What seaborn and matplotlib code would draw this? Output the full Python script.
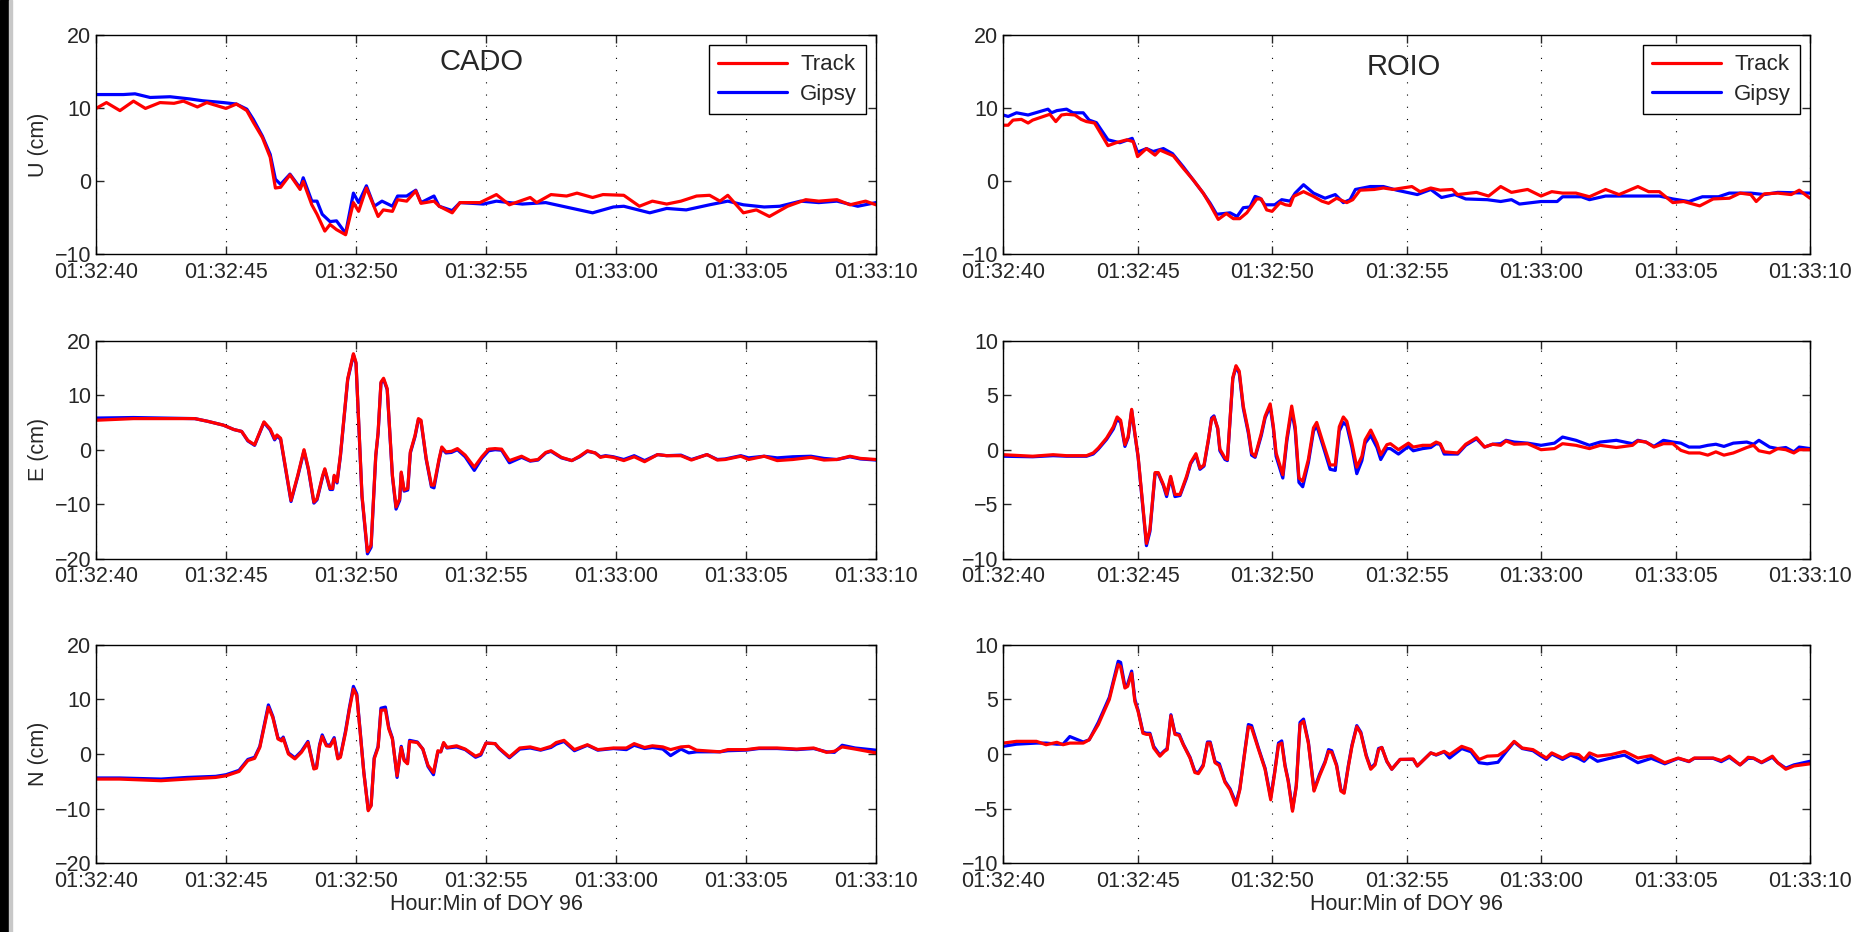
import seaborn as sns
import matplotlib.pyplot as plt
from matplotlib.patches import Rectangle

# seconds after 01:32:40, values in cm

# ---- CADO U ----
cado_u_t_track = [0, 0.4, 0.92, 1.44, 1.9, 2.46, 3.0, 3.36, 3.9, 4.26,
                  5.0, 5.4, 5.8, 6.05, 6.4, 6.7, 6.9, 7.1, 7.46, 7.85,
                  7.97, 8.3, 8.5, 8.8, 9.0, 9.25, 9.6, 9.9, 10.1, 10.4,
                  10.85, 11.05, 11.4, 11.6, 11.95, 12.3, 12.5, 13.0, 13.2, 13.7,
                  14.0, 14.77, 15.4, 15.9, 16.7, 16.95, 17.5, 18.1, 18.5, 19.1,
                  19.5, 20.3, 20.9, 21.4, 21.95, 22.5, 23.1, 23.6, 24.0, 24.3,
                  24.9, 25.4, 25.9, 26.6, 27.3, 27.8, 28.5, 29.0, 29.6, 30.0]
cado_u_track = [10.0, 10.8, 9.7, 11.0, 10.0, 10.8, 10.7, 11.0, 10.2, 10.8,
                10.0, 10.6, 9.7, 8.1, 6.0, 3.3, -0.9, -0.8, 0.9, -1.1,
                0.0, -3.2, -4.5, -6.8, -5.9, -6.6, -7.3, -2.9, -4.1, -0.9,
                -4.8, -3.9, -4.1, -2.5, -2.7, -1.3, -3.0, -2.7, -3.4, -4.3,
                -2.9, -2.9, -1.8, -3.2, -2.2, -2.9, -1.8, -2.0, -1.6, -2.2,
                -1.8, -1.9, -3.4, -2.7, -3.1, -2.7, -2.0, -1.9, -2.7, -1.9,
                -4.3, -3.9, -4.8, -3.4, -2.5, -2.7, -2.5, -3.2, -2.7, -3.2]
cado_u_t_gipsy = [0, 1.05, 1.5, 2.08, 2.85, 3.6, 4.1, 4.9, 5.4, 5.8,
                  6.05, 6.4, 6.7, 6.9, 7.1, 7.46, 7.85, 7.97, 8.3, 8.5,
                  8.7, 9.0, 9.25, 9.6, 9.9, 10.1, 10.4, 10.7, 11.0, 11.4,
                  11.6, 11.95, 12.3, 12.5, 13.0, 13.2, 13.7, 14.0, 14.9, 15.4,
                  16.4, 17.3, 18.2, 19.1, 19.9, 20.3, 21.3, 21.95, 22.7, 23.6,
                  24.3, 24.9, 25.7, 26.3, 27.1, 27.8, 28.5, 29.3, 30.0]
cado_u_gipsy = [11.9, 11.9, 12.0, 11.5, 11.6, 11.3, 11.05, 10.8, 10.6, 9.9,
                8.5, 6.2, 3.7, 0.3, -0.4, 1.0, -0.9, 0.5, -2.7, -2.7,
                -4.5, -5.5, -5.4, -7.1, -1.6, -2.9, -0.6, -3.4, -2.7, -3.4,
                -2.0, -2.0, -1.2, -2.9, -2.0, -3.4, -4.0, -2.9, -3.1, -2.7,
                -3.1, -2.9, -3.6, -4.3, -3.5, -3.4, -4.3, -3.7, -3.9, -3.2,
                -2.7, -3.2, -3.5, -3.4, -2.7, -2.9, -2.7, -3.4, -2.9]

# ---- CADO E ----
cado_e_t = [0, 1.44, 3.8, 4.3, 4.9, 5.3, 5.6, 5.84, 6.1, 6.46,
            6.7, 6.87, 6.96, 7.1, 7.5, 7.76, 8.0, 8.17, 8.38, 8.5,
            8.72, 8.8, 9.0, 9.1, 9.16, 9.27, 9.4, 9.68, 9.9, 10.0,
            10.23, 10.44, 10.58, 10.76, 10.85, 10.96, 11.06, 11.2, 11.4, 11.54,
            11.68, 11.74, 11.85, 11.99, 12.09, 12.27, 12.4, 12.5, 12.7, 12.9,
            13.0, 13.2, 13.3, 13.46, 13.67, 13.9, 14.2, 14.55, 14.84, 15.1,
            15.35, 15.6, 15.9, 16.37, 16.7, 17.0, 17.3, 17.5, 17.9, 18.3,
            18.6, 18.9, 19.2, 19.4, 19.6, 19.9, 20.3, 20.7, 21.1, 21.6,
            21.95, 22.5, 22.9, 23.5, 23.9, 24.2, 24.8, 25.1, 25.7, 26.2,
            26.8, 27.5, 28.0, 28.5, 29.0, 29.4, 30.0]
cado_e_track = [5.4, 5.7, 5.7, 5.2, 4.5, 3.7, 3.35, 1.7, 0.9, 5.1,
                3.8, 2.0, 2.7, 2.1, -9.3, -4.7, 0.0, -3.5, -9.6, -9.0,
                -4.7, -3.5, -7.1, -7.1, -4.7, -5.9, -1.0, 13.0, 17.6, 16.0,
                -8.4, -18.7, -17.5, -1.0, 3.2, 12.4, 13.1, 11.2, -4.7, -10.5,
                -9.0, -4.1, -7.4, -7.1, -0.4, 2.6, 5.7, 5.4, -1.6, -6.5,
                -6.5, -1.6, 0.5, -0.4, -0.3, 0.2, -1.0, -3.2, -1.3, 0.1,
                0.2, 0.1, -2.0, -1.2, -2.0, -1.8, -0.5, -0.2, -1.4, -2.0,
                -1.2, -0.2, -0.6, -1.4, -1.2, -1.4, -2.0, -1.3, -2.2, -0.9,
                -1.1, -1.1, -1.9, -0.9, -1.9, -1.8, -1.2, -1.8, -1.2, -2.0,
                -1.8, -1.4, -1.9, -1.8, -1.2, -1.6, -1.8]
cado_e_gipsy = [5.8, 5.9, 5.7, 5.2, 4.5, 3.7, 3.35, 1.6, 0.8, 5.0,
                3.6, 1.8, 2.5, 1.9, -9.5, -4.9, -0.2, -3.7, -9.8, -9.2,
                -4.9, -3.7, -7.3, -7.3, -4.9, -6.1, -1.2, 12.8, 17.4, 15.8,
                -8.6, -19.1, -17.9, -1.2, 3.0, 12.2, 12.9, 11.0, -4.9, -10.9,
                -9.3, -4.3, -7.6, -7.4, -0.6, 2.4, 5.5, 5.2, -1.8, -6.8,
                -7.0, -1.8, 0.3, -0.6, -0.5, 0.0, -1.3, -3.8, -1.6, -0.2,
                0.0, -0.1, -2.4, -1.4, -2.1, -1.9, -0.6, -0.3, -1.5, -2.0,
                -1.3, -0.3, -0.6, -1.3, -1.1, -1.3, -1.8, -1.1, -2.0, -0.9,
                -1.1, -1.0, -1.8, -0.9, -1.8, -1.7, -1.1, -1.5, -1.2, -1.5,
                -1.3, -1.2, -1.6, -1.8, -1.3, -1.7, -1.9]

# ---- CADO N ----
cado_n_t = [0, 0.9, 2.5, 3.5, 4.6, 5.0, 5.5, 5.84, 6.1, 6.3,
            6.63, 6.8, 7.0, 7.14, 7.2, 7.4, 7.65, 7.9, 8.15, 8.38,
            8.48, 8.6, 8.7, 8.86, 9.0, 9.16, 9.3, 9.4, 9.6, 9.75,
            9.9, 10.03, 10.16, 10.3, 10.47, 10.58, 10.7, 10.85, 10.96, 11.13,
            11.26, 11.4, 11.58, 11.74, 11.85, 11.98, 12.06, 12.36, 12.57, 12.77,
            12.98, 13.15, 13.26, 13.37, 13.5, 13.87, 14.2, 14.6, 14.8, 15.0,
            15.35, 15.5, 15.9, 16.3, 16.7, 17.1, 17.5, 17.7, 18.0, 18.4,
            18.9, 19.3, 19.9, 20.4, 20.7, 21.1, 21.4, 21.8, 22.1, 22.5,
            22.8, 23.1, 23.7, 24.0, 24.3, 25.0, 25.5, 26.2, 26.95, 27.6,
            28.1, 28.4, 28.7, 29.2, 30.0]
cado_n_track = [-4.6, -4.6, -4.9, -4.6, -4.3, -4.0, -3.2, -1.2, -0.8, 1.2,
                8.6, 6.7, 2.75, 2.4, 2.9, 0.0, -0.9, 0.3, 2.1, -2.75,
                -2.6, 1.5, 3.2, 1.5, 1.4, 2.75, -0.9, -0.6, 4.0, 8.3,
                11.9, 10.7, 4.0, -3.4, -10.4, -9.5, -0.9, 1.2, 8.0, 8.1,
                4.6, 2.75, -4.0, 1.2, -1.2, -1.8, 2.3, 2.1, 0.9, -2.1,
                -3.4, 0.6, 0.4, 2.1, 1.2, 1.5, 0.9, -0.4, 0.0, 2.0,
                1.9, 1.1, -0.55, 1.1, 1.3, 0.8, 1.4, 2.1, 2.5, 0.8,
                1.7, 0.8, 1.1, 1.1, 1.9, 1.2, 1.5, 1.3, 0.8, 1.3,
                1.4, 0.7, 0.5, 0.4, 0.8, 0.8, 1.1, 1.1, 0.9, 1.1,
                0.3, 0.5, 1.3, 0.9, 0.2]
cado_n_gipsy = [-4.4, -4.4, -4.6, -4.3, -4.1, -3.8, -3.0, -1.0, -0.6, 1.4,
                9.0, 6.9, 2.9, 2.6, 3.1, 0.2, -0.7, 0.5, 2.3, -2.6,
                -2.4, 1.7, 3.5, 1.7, 1.6, 3.0, -0.7, -0.4, 4.3, 8.6,
                12.4, 11.0, 4.2, -3.3, -10.2, -9.4, -0.7, 1.4, 8.4, 8.6,
                4.9, 2.9, -4.3, 1.4, -1.0, -1.7, 2.5, 2.2, 0.9, -2.3,
                -3.8, 0.4, 0.4, 2.0, 1.1, 1.3, 0.8, -0.6, -0.2, 2.0,
                1.9, 1.0, -0.7, 0.9, 1.1, 0.7, 1.2, 1.8, 2.3, 0.6,
                1.6, 0.7, 1.0, 0.8, 1.6, 1.0, 1.2, 0.9, -0.3, 0.9,
                0.2, 0.4, 0.4, 0.4, 0.6, 0.7, 1.0, 1.0, 0.8, 1.0,
                0.4, 0.3, 1.6, 1.1, 0.7]

# ---- ROIO U ----
roio_u_t_track = [0, 0.19, 0.37, 0.68, 0.93, 1.1, 1.5, 1.74, 1.96, 2.17,
                  2.36, 2.67, 2.9, 3.1, 3.4, 3.66, 3.9, 4.2, 4.6, 4.84,
                  5.0, 5.33, 5.65, 5.83, 6.33, 6.7, 7.07, 7.44, 7.7, 8.0,
                  8.3, 8.56, 8.8, 9.06, 9.24, 9.43, 9.6, 9.8, 10.0, 10.3,
                  10.5, 10.67, 10.8, 11.17, 11.54, 11.85, 12.1, 12.4, 12.78, 13.0,
                  13.27, 13.8, 14.14, 14.5, 15.2, 15.5, 15.9, 16.25, 16.7, 16.9,
                  17.6, 18.05, 18.5, 18.9, 19.5, 20.0, 20.4, 20.8, 21.3, 21.8,
                  22.4, 22.9, 23.6, 24.0, 24.4, 24.9, 25.3, 25.9, 26.4, 27.0,
                  27.4, 27.8, 28.0, 28.3, 28.8, 29.3, 29.6, 30.0]
roio_u_track = [7.7, 7.7, 8.4, 8.5, 8.0, 8.4, 8.9, 9.2, 8.2, 9.1,
                9.2, 9.1, 8.5, 8.2, 8.0, 6.4, 4.9, 5.3, 5.7, 5.45,
                3.4, 4.5, 3.6, 4.3, 3.5, 1.8, 0.2, -1.6, -3.2, -5.2,
                -4.4, -5.1, -5.1, -4.3, -3.4, -2.4, -2.4, -3.9, -4.1, -2.9,
                -3.2, -3.3, -2.05, -1.4, -2.05, -2.7, -3.0, -2.3, -2.9, -2.5,
                -1.2, -1.1, -0.9, -1.1, -0.7, -1.4, -0.9, -1.2, -1.1, -1.8,
                -1.5, -2.0, -0.7, -1.5, -1.1, -2.0, -1.4, -1.6, -1.6, -2.1,
                -1.1, -1.8, -0.7, -1.4, -1.4, -2.9, -2.75, -3.35, -2.4, -2.3,
                -1.6, -1.8, -2.75, -1.7, -1.6, -1.8, -1.2, -2.3]
roio_u_t_gipsy = [0, 0.19, 0.5, 0.93, 1.3, 1.67, 1.8, 2.0, 2.36, 2.6,
                  2.98, 3.2, 3.47, 3.66, 3.9, 4.34, 4.8, 5.0, 5.33, 5.58,
                  5.96, 6.3, 6.7, 7.07, 7.44, 7.7, 7.94, 8.2, 8.44, 8.7,
                  8.93, 9.18, 9.37, 9.55, 9.74, 10.1, 10.36, 10.67, 10.86, 11.17,
                  11.54, 11.97, 12.35, 12.65, 12.9, 13.1, 13.65, 14.14, 14.64, 15.4,
                  15.9, 16.3, 16.8, 17.2, 18.0, 18.5, 18.9, 19.2, 20.0, 20.6,
                  20.8, 21.5, 21.8, 22.4, 23.4, 24.4, 24.9, 25.5, 26.0, 26.6,
                  27.0, 27.8, 28.3, 28.8, 30.0]
roio_u_gipsy = [9.1, 8.9, 9.4, 9.1, 9.5, 9.9, 9.4, 9.7, 9.9, 9.4,
                9.4, 8.4, 8.05, 7.0, 5.7, 5.3, 5.9, 4.0, 4.5, 4.1,
                4.5, 3.8, 2.0, 0.2, -1.6, -3.0, -4.5, -4.4, -4.3, -4.8,
                -3.6, -3.5, -2.05, -2.3, -3.2, -3.2, -2.5, -2.7, -1.6, -0.45,
                -1.6, -2.3, -1.8, -2.9, -2.5, -1.1, -0.7, -0.7, -1.2, -1.8,
                -1.1, -2.2, -1.8, -2.4, -2.5, -2.75, -2.5, -3.1, -2.75, -2.75,
                -2.1, -2.1, -2.5, -2.0, -2.0, -2.0, -2.4, -2.75, -2.1, -2.1,
                -1.6, -1.6, -1.8, -1.5, -1.6]

# ---- ROIO E ----
roio_e_t = [0, 1.1, 1.86, 2.36, 3.1, 3.35, 3.54, 3.85, 4.1, 4.24,
            4.37, 4.53, 4.65, 4.78, 4.9, 5.02, 5.33, 5.46, 5.65, 5.77,
            5.96, 6.08, 6.23, 6.39, 6.58, 6.82, 6.97, 7.17, 7.32, 7.47,
            7.63, 7.75, 7.84, 7.98, 8.06, 8.25, 8.34, 8.54, 8.66, 8.78,
            8.93, 9.12, 9.24, 9.37, 9.6, 9.74, 9.93, 10.05, 10.15, 10.4,
            10.55, 10.73, 10.86, 11.0, 11.14, 11.35, 11.54, 11.66, 11.9, 12.16,
            12.35, 12.5, 12.65, 12.78, 12.97, 13.15, 13.34, 13.46, 13.67, 13.9,
            14.04, 14.27, 14.4, 14.7, 15.07, 15.25, 15.6, 15.9, 16.1, 16.25,
            16.4, 16.9, 17.2, 17.6, 17.9, 18.2, 18.5, 18.7, 19.0, 19.5,
            20.0, 20.5, 20.8, 21.3, 21.8, 22.2, 22.8, 23.4, 23.6, 23.9,
            24.2, 24.55, 24.9, 25.2, 25.5, 25.9, 26.2, 26.5, 26.8, 27.15,
            27.65, 27.9, 28.1, 28.5, 28.8, 29.1, 29.4, 29.6, 30.0]
roio_e_track = [-0.46, -0.6, -0.46, -0.55, -0.55, -0.3, 0.15, 1.07, 2.1, 3.0,
                2.7, 0.46, 1.2, 3.7, 1.5, -0.6, -8.6, -7.3, -2.1, -2.1,
                -3.2, -4.1, -2.45, -4.1, -4.1, -2.45, -1.2, -0.37, -1.7, -1.4,
                0.9, 2.75, 3.0, 2.0, 0.06, -0.76, -0.9, 6.6, 7.7, 7.2,
                4.0, 1.7, -0.3, -0.6, 1.5, 3.06, 4.2, 2.1, -0.3, -2.3,
                1.07, 4.0, 2.1, -2.6, -2.9, -0.9, 2.0, 2.5, 0.6, -1.4,
                -1.4, 2.1, 3.0, 2.6, 0.6, -1.6, -0.6, 0.9, 1.8, 0.6,
                -0.46, 0.46, 0.55, 0.0, 0.6, 0.24, 0.4, 0.4, 0.7, 0.55,
                -0.2, -0.3, 0.5, 1.1, 0.24, 0.5, 0.4, 0.8, 0.5, 0.55,
                0.0, 0.1, 0.55, 0.4, 0.1, 0.4, 0.2, 0.4, 0.8, 0.7,
                0.24, 0.55, 0.55, -0.06, -0.3, -0.3, -0.5, -0.2, -0.5, -0.3,
                0.2, 0.4, -0.1, -0.3, 0.1, 0.0, -0.3, 0.0, 0.0]
roio_e_gipsy = [-0.6, -0.65, -0.55, -0.6, -0.6, -0.4, 0.05, 0.95, 1.9, 2.8,
                2.5, 0.3, 1.1, 3.6, 1.4, -0.7, -8.8, -7.5, -2.2, -2.2,
                -3.3, -4.3, -2.6, -4.3, -4.2, -2.6, -1.3, -0.5, -1.8, -1.5,
                0.8, 2.9, 3.1, 1.9, -0.1, -0.9, -1.0, 6.5, 7.6, 7.0,
                3.8, 1.5, -0.5, -0.7, 1.3, 2.9, 4.0, 1.9, -0.6, -2.6,
                0.8, 3.6, 1.8, -3.0, -3.4, -1.2, 1.7, 2.2, 0.3, -1.8,
                -1.9, 1.7, 2.5, 2.2, 0.2, -2.2, -1.0, 0.6, 1.3, 0.2,
                -0.9, 0.1, 0.1, -0.4, 0.3, -0.1, 0.1, 0.2, 0.55, 0.5,
                -0.4, -0.4, 0.4, 1.0, 0.24, 0.5, 0.55, 0.86, 0.7, 0.6,
                0.4, 0.6, 1.16, 0.86, 0.4, 0.7, 0.86, 0.55, 0.86, 0.7,
                0.3, 0.86, 0.7, 0.6, 0.24, 0.24, 0.4, 0.5, 0.3, 0.6,
                0.7, 0.5, 0.86, 0.24, 0.1, 0.2, -0.2, 0.24, 0.1]

# ---- ROIO N ----
roio_n_t = [0, 0.5, 1.24, 1.6, 2.0, 2.23, 2.48, 2.98, 3.2, 3.54,
            3.95, 4.1, 4.28, 4.37, 4.53, 4.63, 4.78, 4.9, 5.02, 5.2,
            5.33, 5.46, 5.6, 5.83, 6.0, 6.1, 6.24, 6.39, 6.55, 6.7,
            6.95, 7.13, 7.26, 7.44, 7.6, 7.7, 7.88, 8.04, 8.25, 8.44,
            8.66, 8.8, 9.0, 9.12, 9.24, 9.5, 9.74, 9.95, 10.1, 10.24,
            10.36, 10.48, 10.6, 10.76, 10.9, 11.04, 11.17, 11.35, 11.56, 11.76,
            11.97, 12.1, 12.22, 12.4, 12.56, 12.68, 12.84, 12.97, 13.15, 13.3,
            13.5, 13.67, 13.83, 13.96, 14.08, 14.27, 14.45, 14.76, 15.25, 15.4,
            15.9, 16.1, 16.4, 16.6, 17.05, 17.4, 17.7, 18.0, 18.4, 18.7,
            19.0, 19.3, 19.7, 20.0, 20.2, 20.4, 20.8, 21.1, 21.4, 21.6,
            21.8, 22.1, 22.6, 23.1, 23.6, 24.1, 24.6, 25.1, 25.5, 25.7,
            26.4, 26.7, 27.0, 27.4, 27.7, 27.9, 28.2, 28.6, 28.8, 29.1,
            29.4, 30.0]
roio_n_track = [1.0, 1.16, 1.16, 0.85, 1.07, 0.85, 1.0, 1.0, 1.3, 2.7,
                5.0, 6.5, 8.2, 8.0, 6.05, 6.2, 7.4, 4.8, 3.9, 1.9,
                1.8, 1.8, 0.55, -0.2, 0.24, 0.4, 3.5, 1.8, 1.7, 0.85,
                -0.37, -1.7, -1.8, -1.1, 1.0, 1.0, -0.8, -1.07, -2.6, -3.3,
                -4.7, -3.3, 0.4, 2.5, 2.4, 0.4, -1.4, -4.2, -1.7, 0.85,
                1.0, -1.1, -2.5, -5.25, -3.0, 2.7, 3.0, 1.0, -3.4, -2.05,
                -0.8, 0.24, 0.15, -1.1, -3.4, -3.6, -1.1, 0.7, 2.5, 1.9,
                -0.2, -1.4, -1.0, 0.4, 0.6, -0.67, -1.4, -0.5, -0.46, -1.1,
                0.1, -0.06, 0.24, -0.06, 0.7, 0.4, -0.5, -0.2, -0.15, 0.34,
                1.16, 0.55, 0.4, -0.06, -0.37, 0.1, -0.37, 0.03, -0.06, -0.5,
                0.1, -0.2, -0.06, 0.24, -0.37, -0.15, -0.8, -0.37, -0.67, -0.37,
                -0.37, -0.6, -0.2, -1.0, -0.3, -0.37, -0.76, -0.2, -0.8, -1.4,
                -1.1, -0.9]
roio_n_gipsy = [0.7, 0.9, 1.0, 1.0, 0.9, 0.9, 1.6, 1.1, 1.3, 2.9,
                5.2, 6.7, 8.5, 8.4, 6.2, 6.4, 7.6, 5.0, 4.0, 2.0,
                1.9, 1.9, 0.7, -0.1, 0.3, 0.5, 3.6, 1.9, 1.8, 0.9,
                -0.3, -1.6, -1.7, -1.0, 1.1, 1.1, -0.7, -0.9, -2.5, -3.2,
                -4.5, -3.2, 0.5, 2.7, 2.6, 0.5, -1.3, -4.0, -1.6, 1.0,
                1.2, -1.0, -2.4, -5.1, -2.9, 2.9, 3.2, 1.1, -3.3, -1.9,
                -0.7, 0.4, 0.3, -1.0, -3.3, -3.5, -1.0, 0.8, 2.6, 2.0,
                -0.1, -1.3, -0.9, 0.5, 0.6, -0.7, -1.4, -0.5, -0.5, -1.1,
                0.1, -0.1, 0.2, -0.37, 0.5, 0.2, -0.8, -0.9, -0.76, 0.2,
                1.1, 0.5, 0.3, -0.2, -0.5, 0.0, -0.5, -0.1, -0.4, -0.67,
                -0.2, -0.67, -0.37, -0.1, -0.8, -0.4, -0.9, -0.4, -0.7, -0.4,
                -0.4, -0.7, -0.3, -1.0, -0.4, -0.4, -0.8, -0.3, -0.8, -1.3,
                -1.0, -0.67]

tick_pos = [0, 5, 10, 15, 20, 25, 30]
tick_labels = ['01:32:40', '01:32:45', '01:32:50', '01:32:55',
               '01:33:00', '01:33:05', '01:33:10']

sns.set_style('ticks')
plt.rcParams['font.family'] = ['Liberation Sans', 'DejaVu Sans']
plt.rcParams['font.size'] = 15.5

fig = plt.figure(figsize=(18.61, 9.32), dpi=100)

# scanner edge on the left side of the page
fig.add_artist(Rectangle((0, 0), 9 / 1861, 1, transform=fig.transFigure,
                         color='black', zorder=10))
fig.add_artist(Rectangle((9 / 1861, 0), 2.5 / 1861, 1, transform=fig.transFigure,
                         color='#c8c8c8', zorder=10))

col_x = [(0.0516, 0.4191), (0.539, 0.4336)]
row_y = [(0.727, 0.235), (0.4005, 0.234), (0.074, 0.234)]

panels = [
    # row, col, t_track, track, t_gipsy, gipsy, ylim, yticks, ylabel
    (0, 0, cado_u_t_track, cado_u_track, cado_u_t_gipsy, cado_u_gipsy, (-10, 20), [-10, 0, 10, 20], 'U (cm)'),
    (1, 0, cado_e_t, cado_e_track, cado_e_t, cado_e_gipsy, (-20, 20), [-20, -10, 0, 10, 20], 'E (cm)'),
    (2, 0, cado_n_t, cado_n_track, cado_n_t, cado_n_gipsy, (-20, 20), [-20, -10, 0, 10, 20], 'N (cm)'),
    (0, 1, roio_u_t_track, roio_u_track, roio_u_t_gipsy, roio_u_gipsy, (-10, 20), [-10, 0, 10, 20], None),
    (1, 1, roio_e_t, roio_e_track, roio_e_t, roio_e_gipsy, (-10, 10), [-10, -5, 0, 5, 10], None),
    (2, 1, roio_n_t, roio_n_track, roio_n_t, roio_n_gipsy, (-10, 10), [-10, -5, 0, 5, 10], None),
]

for row, col, tt, tr, tg, gp, ylim, yticks, ylab in panels:
    x0, w = col_x[col]
    y0, h = row_y[row]
    ax = fig.add_axes([x0, y0, w, h])
    top = row == 0
    sns.lineplot(x=tg, y=gp, ax=ax, color='#0000ff', lw=2.3, estimator=None,
                 sort=False, label='Gipsy' if top else None, legend=False)
    sns.lineplot(x=tt, y=tr, ax=ax, color='#ff0000', lw=2.3, estimator=None,
                 sort=False, label='Track' if top else None, legend=False)
    ax.set_xlim(0, 30)
    ax.set_ylim(*ylim)
    ax.set_xticks(tick_pos)
    ax.set_xticklabels(tick_labels)
    ax.set_yticks(yticks)
    ax.grid(axis='x', color='black', lw=0.8, linestyle=(0, (1, 10)))
    ax.tick_params(direction='in', top=True, right=True, length=6, width=1,
                   labelsize=15.5)
    ax.tick_params(axis='x', pad=5.5)
    for s in ax.spines.values():
        s.set_linewidth(1.0)
        s.set_color('black')
    ax.set_ylabel(ylab if ylab else '')
    if row == 2:
        ax.set_xlabel('Hour:Min of DOY 96', labelpad=2)
    else:
        ax.set_xlabel('')
    if top:
        handles, labels = ax.get_legend_handles_labels()
        order = [labels.index('Track'), labels.index('Gipsy')]
        leg = ax.legend([handles[i] for i in order], [labels[i] for i in order],
                        loc='upper right', fancybox=False, framealpha=1,
                        edgecolor='black', fontsize=16, handlelength=3.1,
                        handletextpad=0.6, borderpad=0.4, labelspacing=0.4,
                        borderaxespad=0.45)
        leg.get_frame().set_linewidth(1.0)
        name = 'CADO' if col == 0 else 'ROIO'
        ty = 0.88 if col == 0 else 0.858
        ax.text(0.494 if col == 0 else 0.497, ty, name, transform=ax.transAxes,
                ha='center', va='center', fontsize=21)

fig.savefig('out.png', dpi=100)
